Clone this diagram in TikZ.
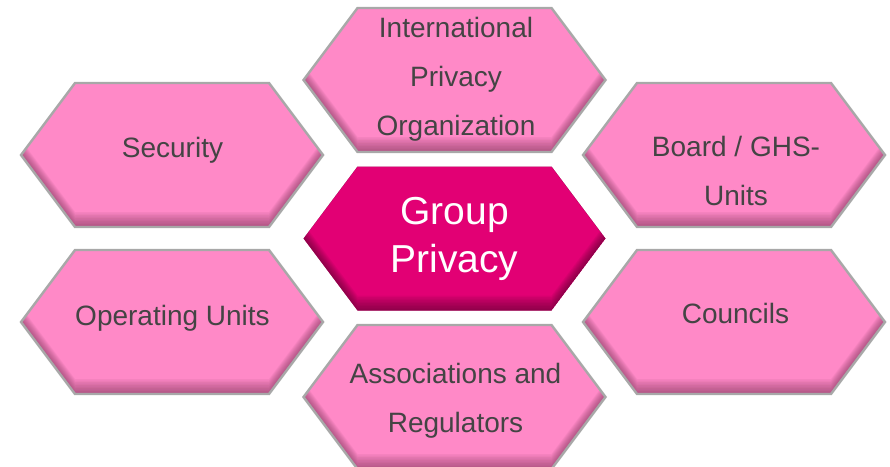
\documentclass[tikz,border=0pt]{standalone}
\usepackage{fontspec}
\setmainfont{Liberation Sans}
\usepackage{tikz}
\definecolor{hexpink}{HTML}{FF89C7}
\definecolor{hexpinkshade}{HTML}{6E2A4C}
\definecolor{hexedge}{HTML}{A8A8A8}
\definecolor{core}{HTML}{E20074}
\definecolor{coreshade}{HTML}{4A0028}
\definecolor{labtext}{HTML}{444444}
\tikzset{
  rim/.style={draw=hexedge, line width=2.4pt},
  norim/.style={draw=none},
  lab/.style={text=labtext, font=\fontsize{28}{49}\selectfont, align=center, inner sep=0pt},
  corelab/.style={text=white, font=\fontsize{39}{48}\selectfont, align=center, inner sep=0pt},
}
% one hexagon: name, x, y, fill colour, rim style
\newcommand{\hexa}[5]{%
  \begin{scope}[shift={(#2,#3)}]
    \coordinate (#1) at (0,0);
    \begin{scope}
      \clip (-151,0) -- (-97,-72) -- (97,-72) -- (151,0) -- (97,72) -- (-97,72) -- cycle;
      \fill[#4] (-160,-80) rectangle (160,80);
      % inner shadow along the lower edges
      \foreach \s in {1.5,3,...,15}
        \fill[#4shade, opacity=0.065, even odd rule]
          (-151,0) -- (-97,-72) -- (97,-72) -- (151,0) -- (97,72) -- (-97,72) -- cycle
          (-151,-\s) -- (-97,-72-\s) -- (97,-72-\s) -- (151,-\s) -- (97,72-\s) -- (-97,72-\s) -- cycle;
    \end{scope}
    \path[#5] (-151,0) -- (-97,-72) -- (97,-72) -- (151,0) -- (97,72) -- (-97,72) -- cycle;
  \end{scope}}

\begin{document}
\begin{tikzpicture}[x=1pt,y=-1pt]
  \fill[white] (0,0) rectangle (890,466);
  \useasboundingbox (0,0) rectangle (890,466);

  \hexa{hipo}{454.5}{80}{hexpink}{rim}
  \hexa{hsec}{172}{155}{hexpink}{rim}
  \hexa{hbgu}{734}{155}{hexpink}{rim}
  \hexa{hgrp}{454.5}{238.5}{core}{norim}
  \hexa{hopu}{172}{322}{hexpink}{rim}
  \hexa{hcou}{734}{322}{hexpink}{rim}
  \hexa{hasr}{454.5}{397}{hexpink}{rim}

  \node[lab] (ipo) at (456,78.8) {International\\Privacy\\Organization};
  \node[lab] (sec) at (172.5,150) {Security};
  \node[lab] (bgu) at (736,171.3) {Board / GHS-\\Units};
  \node[corelab] (grp) at (454.5,239) {Group\\Privacy};
  \node[lab] (opu) at (172.5,318) {Operating Units};
  \node[lab] (cou) at (735.5,313) {Councils};
  \node[lab] (asr) at (455.5,400.3) {Associations and\\Regulators};
\end{tikzpicture}
\end{document}
